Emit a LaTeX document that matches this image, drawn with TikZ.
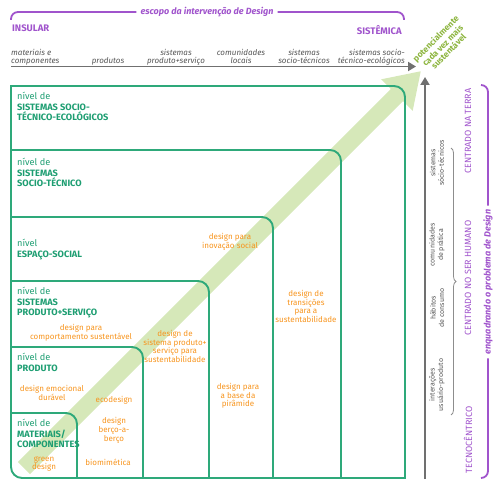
\documentclass[tikz,border=0pt]{standalone}
\usepackage{fontspec}
\setmainfont{Fira Sans}
\usetikzlibrary{arrows.meta,decorations.pathreplacing}
\definecolor{boxgreen}{HTML}{2EA97A}
\definecolor{lvlgreen}{HTML}{1E9E72}
\definecolor{bandcol}{HTML}{D6E8B9}
\definecolor{orng}{HTML}{F7941D}
\definecolor{purp}{HTML}{A054CC}
\definecolor{axisgray}{HTML}{707070}
\definecolor{labgray}{HTML}{555555}
\definecolor{diaggreen}{HTML}{8DB53F}
\begin{document}
\begin{tikzpicture}[x=1pt,y=-1pt,
 boxline/.style={draw=boxgreen, line width=1.9pt, rounded corners=11pt, line cap=rect},
 lvl/.style={anchor=north west, align=left, text=lvlgreen, inner sep=0pt, font=\fontsize{9.2}{10.6}\selectfont},
 dsg/.style={align=center, text=orng, inner sep=0pt, font=\fontsize{8}{8.7}\selectfont},
 col/.style={anchor=north, align=center, text=labgray, inner sep=0pt, font=\fontsize{8}{8.5}\selectfont\itshape},
 axisline/.style={draw=axisgray, line width=1.8pt, -{Triangle[length=8pt,width=9pt]}},
 bandarrow/.style={draw=bandcol, line width=17pt, -{Triangle[length=34pt,width=42pt]}},
 vlab/.style={rotate=90, align=center, text=labgray, inner sep=0pt, font=\fontsize{7}{8.5}\selectfont},
 plab/.style={rotate=90, text=purp, inner sep=0pt, font=\fontsize{9}{10}\selectfont},
 ptitle/.style={text=purp, inner sep=4pt, font=\fontsize{9}{10}\selectfont\bfseries\itshape},
 pline/.style={draw=purp, line width=1.8pt, rounded corners=7pt},
]
\useasboundingbox (0,0) rectangle (500,486);

% diagonal band arrow
\coordinate (bandstart) at (24,468);
\coordinate (bandtip) at (421,71);
\draw[bandarrow] (bandstart) -- (bandtip);

% nested boxes
\draw[boxline] (11,413) -- (77,413) -- (77,478);
\draw[boxline] (11,347) -- (143,347) -- (143,478);
\draw[boxline] (11,281) -- (209,281) -- (209,478);
\draw[boxline] (11,217) -- (273,217) -- (273,478);
\draw[boxline] (11,150) -- (341,150) -- (341,478);
\draw[boxline] (11,86) -- (405,86) -- (405,478);
\draw[boxline] (11,86) -- (11,478) -- (405,478);

% level labels
\node[lvl] (lste) at (17,92) {nível de\\\textbf{SISTEMAS SOCIO-}\\\textbf{TÉCNICO-ECOLÓGICOS}};
\node[lvl] (lst) at (17,158) {nível de\\\textbf{SISTEMAS}\\\textbf{SOCIO-TÉCNICO}};
\node[lvl] (les) at (17,239) {nível\\\textbf{ESPAÇO-SOCIAL}};
\node[lvl] (lps) at (17,287) {nível de\\\textbf{SISTEMAS}\\\textbf{PRODUTO+SERVIÇO}};
\node[lvl] (lpr) at (17,353) {nível de\\\textbf{PRODUTO}};
\node[lvl] (lmc) at (17,419) {nível de\\\textbf{MATERIAIS/}\\\textbf{COMPONENTES}};

% design approaches
\node[dsg] (dcomp) at (81,332.5) {design para\\comportamento sustentável};
\node[dsg] (demo) at (52,393) {design emocional\\durável};
\node[dsg] (deco) at (114,400.5) {ecodesign};
\node[dsg] (dberco) at (114,430.5) {design\\berço-a-\\berço};
\node[dsg] (dbio) at (108,462.5) {biomimética};
\node[dsg] (dgreen) at (44,464) {green\\design};
\node[dsg] (dsps) at (175,346.5) {design de\\sistema produto+\\serviço para\\sustentabilidade};
\node[dsg] (dbase) at (238,396) {design para\\a base da\\pirâmide};
\node[dsg] (dinov) at (230,241.5) {design para\\inovação social};
\node[dsg] (dtrans) at (306,306.5) {design de\\transições\\para a\\sustentabilidade};

% top scope bracket
\node[ptitle] (scope) at (207,12) {escopo da intervenção de Design};
\coordinate (sl) at (11,20);
\coordinate (sr) at (404,20);
\draw[pline] (sl) |- (scope.west);
\draw[pline] (scope.east) -| (sr);
\node[anchor=north west, text=purp, inner sep=0pt, font=\fontsize{9.5}{10}\selectfont\bfseries] (insular) at (12,25) {INSULAR};
\node[anchor=north east, text=purp, inner sep=0pt, font=\fontsize{9.5}{10}\selectfont\bfseries] (sistemica) at (402,25) {SISTÊMICA};

% column headers
\node[col, anchor=north west, align=left] (cmat) at (11,49) {materiais e\\componentes};
\node[col] (cprod) at (108,57) {produtos};
\node[col] (cps) at (176,49) {sistemas\\produto+serviço};
\node[col] (ccom) at (241,49) {comunidades\\locais};
\node[col] (cst) at (304,49) {sistemas\\socio-técnicos};
\node[col, anchor=north east, align=right] (cste) at (405,49) {sistemas socio-\\técnico-ecológicos};

% axes
\coordinate (hs) at (11,66.5);
\coordinate (he) at (416,66.5);
\draw[axisline] (hs) -- (he);
\coordinate (vs) at (425,479);
\coordinate (ve) at (425,77);
\draw[axisline] (vs) -- (ve);

% diagonal text
\node[rotate=45, align=center, text=diaggreen, inner sep=0pt, font=\fontsize{8.5}{8.3}\selectfont\bfseries] (sust) at (442,45) {potencialmente\\cada vez mais\\sustentável};

% vertical gray labels
\node[vlab] (vst) at (437,163) {sistemas\\sócio-técnicos};
\node[vlab] (vcp) at (437,245) {comunidades\\de prática};
\node[vlab] (vhc) at (437,308) {hábitos\\de consumo};
\node[vlab] (viu) at (437,385) {interações\\usuário-produto};
\coordinate (bt) at (451,148);
\coordinate (bb) at (451,415);
\draw[decorate, decoration={brace, amplitude=5pt}, draw=axisgray!80, line width=0.8pt] (bt) -- (bb);

% purple vertical labels
\node[plab] (pterra) at (468,131) {CENTRADO NA TERRA};
\node[plab] (phum) at (468,278) {CENTRADO NO SER HUMANO};
\node[plab] (ptec) at (468,440) {TECNOCÊNTRICO};

\node[ptitle, rotate=90] (enq) at (488,282) {enquadrando o problema de Design};
\coordinate (et) at (481,85);
\coordinate (eb) at (481,478);
\draw[pline] (enq.east) |- (et);
\draw[pline] (enq.west) |- (eb);
\end{tikzpicture}
\end{document}
